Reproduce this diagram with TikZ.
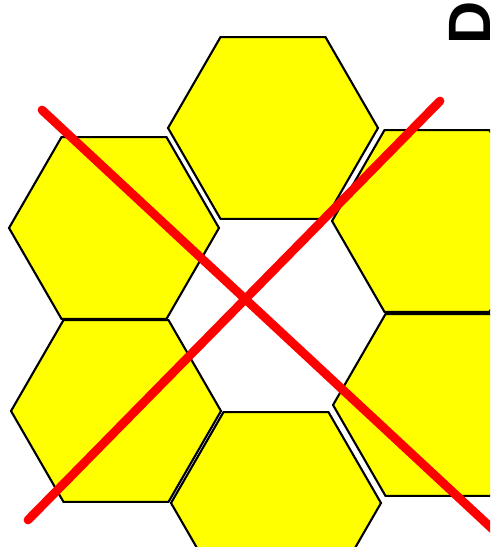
\documentclass[tikz,border=0pt]{standalone}
\usepackage{fontspec}
\setsansfont{Liberation Sans}
\usetikzlibrary{shapes.geometric}
\definecolor{cellyellow}{RGB}{255,255,0}
\definecolor{crossred}{RGB}{255,0,0}

\begin{document}
\begin{tikzpicture}[x=0.02cm, y=-0.02cm,
        hexcell/.style={regular polygon, regular polygon sides=6, draw=black, line width=1.2pt, fill=cellyellow, inner sep=0pt, minimum size=4.2cm},
        cross/.style={draw=crossred, line width=5pt, line cap=round}
    ]
    \useasboundingbox (0,0) rectangle (490,547);
    \clip (0,0) rectangle (490,547);
    \node (hexTop) [hexcell] at (273,128) {};
    \node (hexUL) [hexcell] at (114,228) {};
    \node (hexLL) [hexcell] at (116,411) {};
    \node (hexBot) [hexcell] at (276,503) {};
    \node (hexUR) [hexcell] at (437,221) {};
    \node (hexLR) [hexcell] at (438,405) {};

    \coordinate (crossA1) at (42,110);
    \coordinate (crossA2) at (500,536);
    \coordinate (crossB1) at (28,520);
    \coordinate (crossB2) at (440,101);
    \draw [cross] (crossA1) -- (crossA2);
    \draw [cross] (crossB1) -- (crossB2);

    \node (tag) [rotate=90, anchor=base west, inner sep=0pt, font=\sffamily\bfseries\fontsize{34}{34}\selectfont] at (490,45) {D};
\end{tikzpicture}
\end{document}
